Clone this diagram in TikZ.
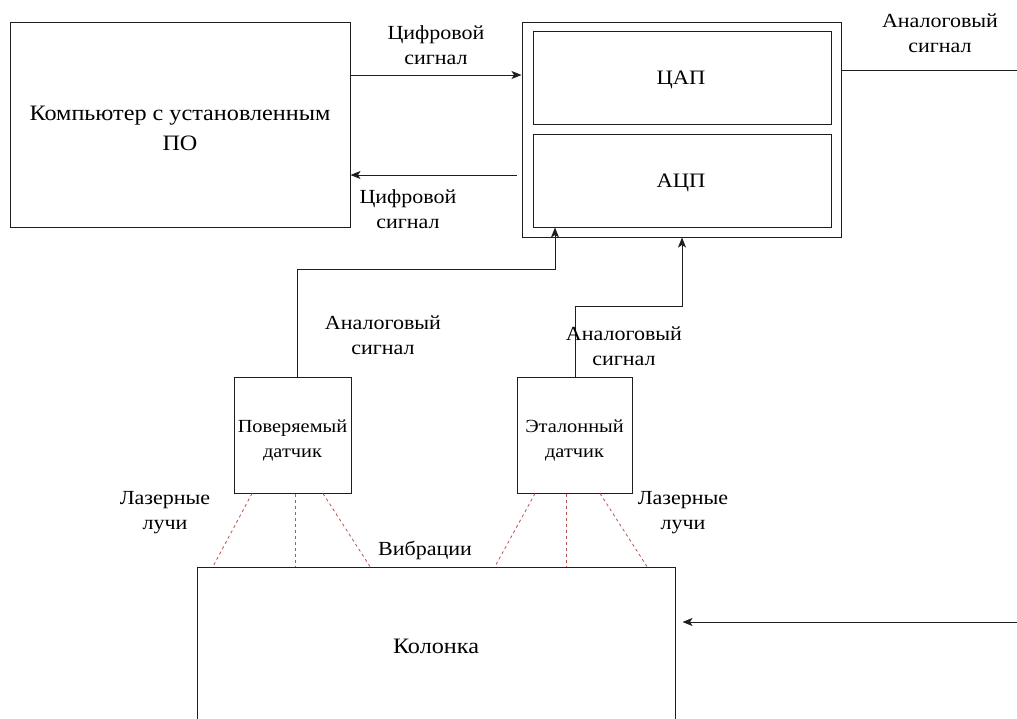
\documentclass[tikz,border=0pt]{standalone}
\usepackage{fontspec}
\setmainfont{Liberation Serif}[FakeStretch=1.1]
\newfontfamily\ser{Liberation Serif}[FakeStretch=1.1]
\usetikzlibrary{arrows.meta}
\definecolor{lnc}{RGB}{30,30,30}
\definecolor{laser}{RGB}{184,84,80}
\begin{document}
\begin{tikzpicture}[x=1pt,y=-1pt,
  box/.style={draw=lnc,line width=1pt,inner sep=0pt},
  txt/.style={inner sep=0pt,align=center},
  lbl/.style={inner sep=0pt,align=center,font=\ser\fontsize{20}{25}\selectfont},
  arr/.style={draw=lnc,line width=1pt,-{Stealth[length=10pt,width=8pt,inset=2.5pt]}},
  wire/.style={draw=lnc,line width=1pt},
  beam/.style={draw=laser,line width=0.8pt,dash pattern=on 3pt off 3pt}]
\useasboundingbox (0,0) rectangle (1017,718);
\begin{scope}
\clip (0,0) rectangle (1017,718);
% boxes
\node[box,minimum width=340pt,minimum height=205pt] (comp) at (180,124.5) {};
\node[txt,font=\ser\fontsize{22}{30}\selectfont] (compt) at (180,128) {Компьютер с установленным\\ПО};
\node[box,minimum width=319pt,minimum height=215pt] (outer) at (681.5,129.5) {};
\node[box,minimum width=298pt,minimum height=93pt] (dac) at (682,77.5) {};
\node[txt,font=\ser\fontsize{20.5}{24}\selectfont] (dact) at (681,80) {ЦАП};
\node[box,minimum width=298pt,minimum height=93pt] (adc) at (682,180.5) {};
\node[txt,font=\ser\fontsize{20.5}{24}\selectfont] (adct) at (681,183) {АЦП};
\node[box,minimum width=117pt,minimum height=116pt] (s1) at (292.5,435) {};
\node[txt,font=\ser\fontsize{18.5}{25}\selectfont] (s1t) at (292.5,440) {Поверяемый\\датчик};
\node[box,minimum width=115pt,minimum height=116pt] (s2) at (574.5,435) {};
\node[txt,font=\ser\fontsize{18.5}{25}\selectfont] (s2t) at (574.5,440) {Эталонный\\датчик};
\node[box,minimum width=478pt,minimum height=154pt] (kol) at (436,644) {};
\node[txt,font=\ser\fontsize{22}{26}\selectfont] (kolt) at (436,646) {Колонка};
% free ends
\coordinate (rend) at (1017,70);
\coordinate (kin) at (1017,622);
% connectors
\draw[arr] (comp.east |- 0,75) -- (outer.west |- 0,75);
\draw[arr] ([xshift=-5pt]outer.west |- 0,175) -- (comp.east |- 0,175);
\draw[wire] (outer.east |- rend) -- (rend);
\draw[arr] ([xshift=4.5pt]s1.north) -- ++(0,-107) -| (adc.south -| 555,0);
\draw[arr] ([xshift=0.5pt]s2.north) -- ++(0,-70) -| (outer.south -| 682,0);
\draw[arr] (kin) -- ([xshift=7pt]kol.east |- kin);
% laser beams
\draw[beam] ([xshift=-40.5pt]s1.south) -- ([xshift=-223pt]kol.north);
\draw[beam] ([xshift=2.5pt]s1.south) -- ([xshift=-141pt]kol.north);
\draw[beam] ([xshift=30.5pt]s1.south) -- ([xshift=-66pt]kol.north);
\draw[beam] ([xshift=-39.5pt]s2.south) -- ([xshift=59pt]kol.north);
\draw[beam] ([xshift=-8.5pt]s2.south) -- ([xshift=130pt]kol.north);
\draw[beam] ([xshift=25.5pt]s2.south) -- ([xshift=211pt]kol.north);
% labels
\node[lbl] (l1) at (436,45) {Цифровой\\сигнал};
\node[lbl] (l2) at (408,209) {Цифровой\\сигнал};
\node[lbl] (l3) at (940,33) {Аналоговый\\сигнал};
\node[lbl] (l4) at (383,335) {Аналоговый\\сигнал};
\node[lbl] (l5) at (624,346) {Аналоговый\\сигнал};
\node[lbl] (l6) at (165,513) {Лазерные\\лучи};
\node[lbl] (l7) at (683,513) {Лазерные\\лучи};
\node[lbl] (l8) at (425,550) {Вибрации};
\end{scope}
\end{tikzpicture}
\end{document}
